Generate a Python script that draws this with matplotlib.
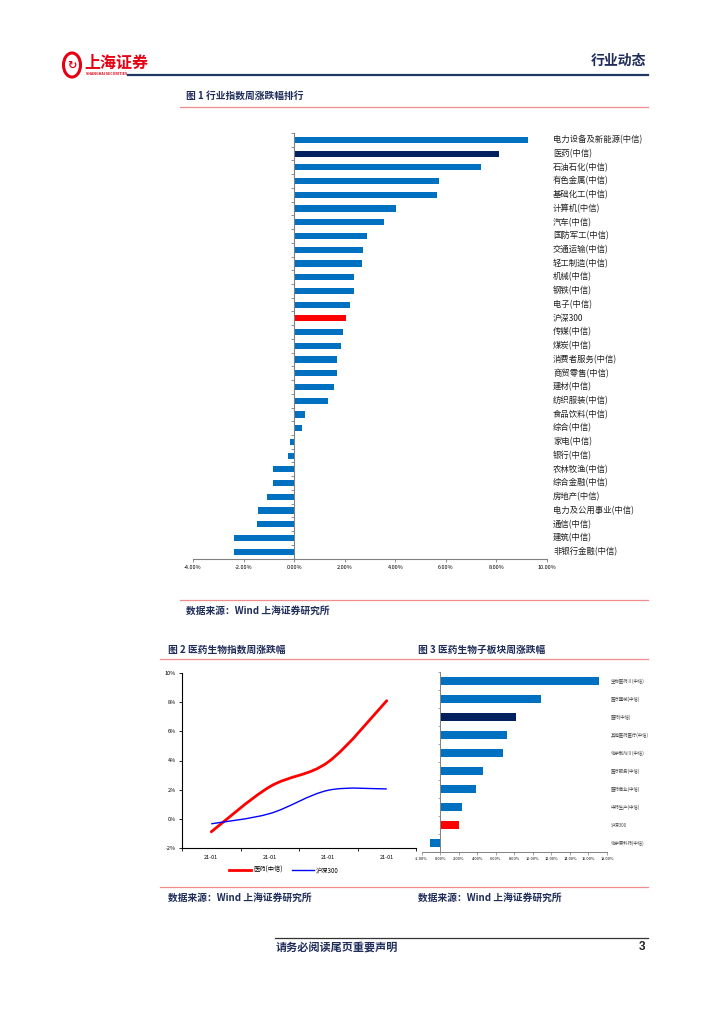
import numpy as np
import matplotlib.pyplot as plt
from matplotlib.path import Path
from matplotlib.patches import PathPatch, Circle
from matplotlib.lines import Line2D

plt.rcParams['font.family'] = ['Noto Sans CJK SC', 'DejaVu Sans']

# ---- data ----
industries = ['电力设备及新能源(中信)', '医药(中信)', '石油石化(中信)', '有色金属(中信)',
              '基础化工(中信)', '计算机(中信)', '汽车(中信)', '国防军工(中信)',
              '交通运输(中信)', '轻工制造(中信)', '机械(中信)', '钢铁(中信)',
              '电子(中信)', '沪深300', '传媒(中信)', '煤炭(中信)', '消费者服务(中信)',
              '商贸零售(中信)', '建材(中信)', '纺织服装(中信)', '食品饮料(中信)',
              '综合(中信)', '家电(中信)', '银行(中信)', '农林牧渔(中信)',
              '综合金融(中信)', '房地产(中信)', '电力及公用事业(中信)', '通信(中信)',
              '建筑(中信)', '非银行金融(中信)']
industry_chg = [9.25, 8.10, 7.39, 5.73, 5.65, 4.03, 3.56, 2.89, 2.73, 2.69, 2.37,
                2.37, 2.21, 2.04, 1.95, 1.86, 1.70, 1.70, 1.58, 1.33, 0.43, 0.32,
                -0.16, -0.26, -0.82, -0.85, -1.07, -1.42, -1.45, -2.37, -2.37]

dates = ['21-01', '21-01', '21-01', '21-01']
pharma_cum = [-0.89, 2.20, 3.90, 8.10]
hs300_cum = [-0.34, 0.36, 1.96, 2.05]

sub_sectors = ['生物医药Ⅱ(中信)', '医疗器械(中信)', '医药(中信)', '其他医药医疗(中信)',
               '化学制剂Ⅱ(中信)', '医疗服务(中信)', '医药商业(中信)', '中药生产(中信)',
               '沪深300', '化学原料药(中信)']
sub_chg = [17.1, 10.9, 8.2, 7.25, 6.8, 4.6, 3.9, 2.4, 2.04, -1.1]

W, H = 724, 1024
BLUE = '#0070C0'
NAVY = '#002060'
RED = '#FF0000'
PINK = '#F28B8B'
TXT = '#1F2D5A'

fig = plt.figure(figsize=(W / 100, H / 100), dpi=100)


def ax_px(x0, y0, x1, y1):
    return fig.add_axes([x0 / W, 1 - y1 / H, (x1 - x0) / W, (y1 - y0) / H])


def hline(x0, x1, y, color, lw):
    fig.add_artist(Line2D([x0 / W, x1 / W], [1 - y / H, 1 - y / H],
                          color=color, lw=lw, transform=fig.transFigure))


def ftext(x, y, s, **kw):
    fig.text(x / W, 1 - y / H, s, **kw)


def bar_color(name):
    if name == '沪深300':
        return RED
    if name == '医药(中信)':
        return NAVY
    return BLUE


def smooth_path(xs, ys):
    # Excel-like smoothed line: cubic bezier segments through the points
    pts = np.column_stack([xs, ys]).astype(float)
    ext = np.vstack([pts[0], pts, pts[-1]])
    verts = [pts[0]]
    codes = [Path.MOVETO]
    for i in range(1, len(ext) - 2):
        p0, p1, p2, p3 = ext[i - 1], ext[i], ext[i + 1], ext[i + 2]
        verts += [p1 + (p2 - p0) / 6, p2 - (p3 - p1) / 6, p2]
        codes += [Path.CURVE4] * 3
    return Path(verts, codes)


# ---- header ----
fig.add_artist(Circle((72 / W, 1 - 65 / H), 8.5 / W, transform=fig.transFigure,
                      fill=False, ec='#E60012', lw=2.2))
ftext(72, 65, '↻', color='#E60012', fontsize=8, ha='center', va='center',
      fontweight='bold')
ftext(84, 63, '上海证券', color='#E60012', fontsize=11.5, fontweight='bold',
      va='center')
ftext(86, 74, 'SHANGHAI SECURITIES', color='#E60012', fontsize=2.6,
      fontweight='bold', va='center')
ftext(646, 61, '行业动态', color=TXT, fontsize=10, fontweight='bold',
      ha='right', va='center')
hline(128, 648, 75, '#1F3864', 1.6)

# ---- figure 1 ----
ftext(186, 96, '图 1 行业指数周涨跌幅排行', color=TXT, fontsize=7,
      fontweight='bold', va='center')
hline(180, 648, 107, PINK, 0.9)

ax1 = ax_px(193, 133, 547, 558.6)
y1 = np.arange(len(industries))
ax1.barh(y1, industry_chg, height=0.45,
         color=[bar_color(n) for n in industries])
ax1.set_xlim(-4, 10)
ax1.set_ylim(len(industries) - 0.5, -0.5)
ax1.set_xticks(np.arange(-4, 11, 2))
ax1.set_xticklabels(['%.2f%%' % v for v in np.arange(-4, 11, 2)])
ax1.set_yticks(np.arange(-0.5, len(industries), 1))
ax1.set_yticklabels([])
ax1.spines['left'].set_position(('data', 0))
for s in ['top', 'right']:
    ax1.spines[s].set_visible(False)
for s in ['left', 'bottom']:
    ax1.spines[s].set_color('#808080')
    ax1.spines[s].set_linewidth(0.8)
ax1.tick_params(axis='x', labelsize=4, length=2.5, width=0.6, color='#808080', pad=2)
ax1.tick_params(axis='y', length=2, width=0.6, color='#808080')
for i, name in enumerate(industries):
    ax1.text(1.017, i, name, transform=ax1.get_yaxis_transform(),
             fontsize=6, va='center', ha='left', color='#222222')

hline(180, 648, 600, PINK, 0.9)
src = '数据来源：Wind 上海证券研究所'
ftext(186, 611, src, color=TXT, fontsize=7, fontweight='bold', style='italic',
      va='center')

# ---- figure 2 / 3 titles ----
ftext(168, 650, '图 2 医药生物指数周涨跌幅', color=TXT, fontsize=7,
      fontweight='bold', va='center')
ftext(418, 650, '图 3 医药生物子板块周涨跌幅', color=TXT, fontsize=7,
      fontweight='bold', va='center')
hline(160, 648, 659, PINK, 0.9)

# ---- figure 2: line chart ----
ax2 = ax_px(182, 673, 416, 848)
xs = np.arange(len(dates))
ax2.add_patch(PathPatch(smooth_path(xs, pharma_cum), fill=False, ec=RED,
                        lw=2.0, capstyle='round'))
ax2.add_patch(PathPatch(smooth_path(xs, hs300_cum), fill=False, ec='#0000FF',
                        lw=1.0))
ax2.set_xlim(-0.5, len(dates) - 0.5)
ax2.set_ylim(-2, 10)
ax2.set_yticks(np.arange(-2, 11, 2))
ax2.set_yticklabels(['%d%%' % v for v in np.arange(-2, 11, 2)])
ax2.set_xticks(xs)
ax2.set_xticklabels(dates)
ax2.set_xticks(np.arange(-0.5, len(dates), 1), minor=True)
ax2.tick_params(axis='x', which='major', length=0, labelsize=4, pad=5)
ax2.tick_params(axis='x', which='minor', length=2.5, width=0.6)
ax2.tick_params(axis='y', labelsize=4, length=2.5, width=0.6, pad=2)
for s in ['top', 'right']:
    ax2.spines[s].set_visible(False)
for s in ['left', 'bottom']:
    ax2.spines[s].set_linewidth(0.8)
handles = [Line2D([], [], color=RED, lw=2.0), Line2D([], [], color='#0000FF', lw=1.0)]
fig.legend(handles, ['医药(中信)', '沪深300'], loc='center',
           bbox_to_anchor=(284 / W, 1 - 870 / H), ncol=2, frameon=False,
           fontsize=4.5, handlelength=3.5, columnspacing=1.5, handletextpad=0.3)

# ---- figure 3: sub-sector bars ----
ax3 = ax_px(421.6, 672, 607, 852)
y3 = np.arange(len(sub_sectors))
ax3.barh(y3, sub_chg, height=0.4, color=[bar_color(n) for n in sub_sectors])
ax3.set_xlim(-2, 18)
ax3.set_ylim(len(sub_sectors) - 0.5, -0.5)
ax3.set_xticks(np.arange(-2, 19, 2))
ax3.set_xticklabels(['%.2f%%' % v for v in np.arange(-2, 19, 2)])
ax3.set_yticks(np.arange(-0.5, len(sub_sectors), 1))
ax3.set_yticklabels([])
ax3.spines['left'].set_position(('data', 0))
for s in ['top', 'right']:
    ax3.spines[s].set_visible(False)
for s in ['left', 'bottom']:
    ax3.spines[s].set_color('#808080')
    ax3.spines[s].set_linewidth(0.7)
ax3.tick_params(axis='x', labelsize=2.8, length=2, width=0.5, color='#808080', pad=1.5)
ax3.tick_params(axis='y', length=1.5, width=0.5, color='#808080')
for i, name in enumerate(sub_sectors):
    ax3.text(1.022, i, name, transform=ax3.get_yaxis_transform(),
             fontsize=3.2, va='center', ha='left', color='#444444')

hline(160, 648, 887, PINK, 0.9)
ftext(168, 898, src, color=TXT, fontsize=7, fontweight='bold', style='italic',
      va='center')
ftext(418, 898, src, color=TXT, fontsize=7, fontweight='bold', style='italic',
      va='center')

# ---- footer ----
hline(275, 648, 938, '#333333', 0.9)
ftext(276, 947, '请务必阅读尾页重要声明', color=TXT, fontsize=8,
      fontweight='bold', va='center')
ftext(645, 947, '3', color='#222222', fontsize=8.5, fontweight='bold',
      ha='right', va='center', family='Liberation Sans')

fig.savefig('out.png', dpi=100)
